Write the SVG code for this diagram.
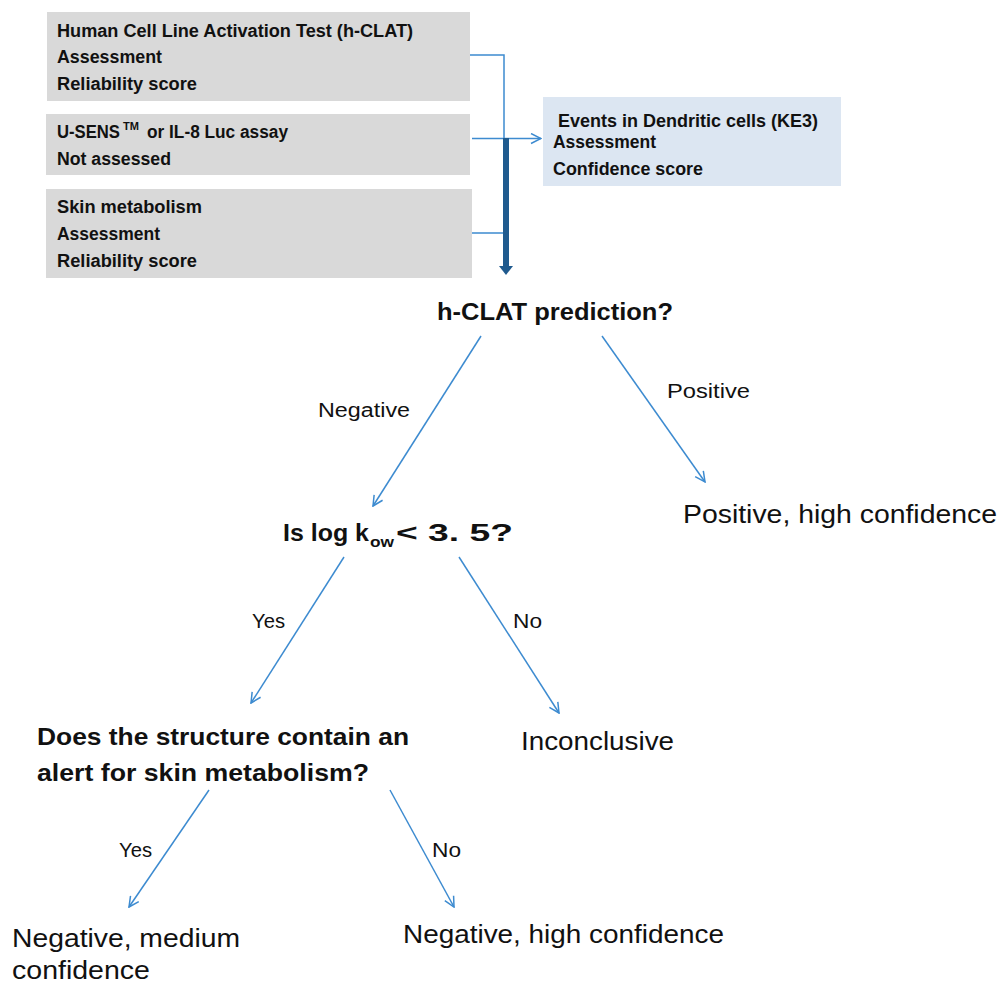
<svg xmlns="http://www.w3.org/2000/svg" width="1000" height="986" viewBox="0 0 1000 986">
  <defs>
    <style>
      .src { fill: #d9d9d9; }
      .ke { fill: #dce6f2; }
      .bt { font-family: "Liberation Sans", Arial, sans-serif; font-weight: bold; font-size: 18px; fill: #111; }
      .q { font-family: "Liberation Sans", Arial, sans-serif; font-weight: bold; font-size: 24px; fill: #111; }
      .lbl { font-family: "Liberation Sans", Arial, sans-serif; font-size: 20px; fill: #111; }
      .res { font-family: "Liberation Sans", Arial, sans-serif; font-size: 25px; fill: #111; }
      .thin { fill: none; stroke: #3d8bd0; stroke-width: 1.5; }
      .thick { fill: none; stroke: #1f5a8e; stroke-width: 6; }
    </style>
    <marker id="open" viewBox="0 0 12 12" refX="11" refY="6" markerWidth="12" markerHeight="12" markerUnits="userSpaceOnUse" orient="auto">
      <path d="M1,1 L11,6 L1,11" fill="none" stroke="#3d8bd0" stroke-width="1.5"/>
    </marker>
  </defs>

  <!-- input evidence boxes -->
  <g id="hclat-box">
    <rect class="src" x="47" y="12" width="423" height="89"/>
    <text class="bt" x="57" y="37" textLength="356" lengthAdjust="spacingAndGlyphs">Human Cell Line Activation Test (h-CLAT)</text>
    <text class="bt" x="57" y="63" textLength="105" lengthAdjust="spacingAndGlyphs">Assessment</text>
    <text class="bt" x="57" y="90" textLength="140" lengthAdjust="spacingAndGlyphs">Reliability score</text>
  </g>
  <g id="usens-box">
    <rect class="src" x="46" y="114" width="424" height="61"/>
    <text class="bt" x="57" y="138" textLength="63" lengthAdjust="spacingAndGlyphs">U-SENS</text>
    <text class="bt" x="123" y="130" style="font-size:11px" textLength="16" lengthAdjust="spacingAndGlyphs">TM</text>
    <text class="bt" x="147" y="138" textLength="141" lengthAdjust="spacingAndGlyphs">or IL-8 Luc assay</text>
    <text class="bt" x="57" y="165" textLength="114" lengthAdjust="spacingAndGlyphs">Not assessed</text>
  </g>
  <g id="skin-box">
    <rect class="src" x="46" y="189" width="426" height="89"/>
    <text class="bt" x="57" y="213" textLength="145" lengthAdjust="spacingAndGlyphs">Skin metabolism</text>
    <text class="bt" x="57" y="240" textLength="103" lengthAdjust="spacingAndGlyphs">Assessment</text>
    <text class="bt" x="57" y="267" textLength="140" lengthAdjust="spacingAndGlyphs">Reliability score</text>
  </g>

  <!-- key event box -->
  <g id="ke3-box">
    <rect class="ke" x="543" y="97" width="298" height="89"/>
    <text class="bt" x="558" y="127" textLength="260" lengthAdjust="spacingAndGlyphs">Events in Dendritic cells (KE3)</text>
    <text class="bt" x="553" y="148" textLength="103" lengthAdjust="spacingAndGlyphs">Assessment</text>
    <text class="bt" x="553" y="175" textLength="150" lengthAdjust="spacingAndGlyphs">Confidence score</text>
  </g>

  <!-- decision nodes -->
  <g id="q-hclat">
    <text class="q" x="437" y="320" textLength="236" lengthAdjust="spacingAndGlyphs">h-CLAT prediction?</text>
  </g>
  <g id="q-logkow">
    <text class="q" x="283" y="541" textLength="86" lengthAdjust="spacingAndGlyphs">Is log k</text>
    <text class="q" x="370" y="547" style="font-size:15px" textLength="24" lengthAdjust="spacingAndGlyphs">ow</text>
    <text class="q" x="396" y="541" textLength="117" lengthAdjust="spacingAndGlyphs">&lt; 3. 5?</text>
  </g>
  <g id="q-alert">
    <text class="q" x="37" y="745" textLength="372" lengthAdjust="spacingAndGlyphs">Does the structure contain an</text>
    <text class="q" x="37" y="781" textLength="332" lengthAdjust="spacingAndGlyphs">alert for skin metabolism?</text>
  </g>

  <!-- outcomes -->
  <g id="out-positive">
    <text class="res" x="683" y="523" textLength="314" lengthAdjust="spacingAndGlyphs">Positive,  high confidence</text>
  </g>
  <g id="out-inconclusive">
    <text class="res" x="521" y="750" textLength="153" lengthAdjust="spacingAndGlyphs">Inconclusive</text>
  </g>
  <g id="out-neg-medium">
    <text class="res" x="12" y="947" textLength="228" lengthAdjust="spacingAndGlyphs">Negative, medium</text>
    <text class="res" x="12" y="979" textLength="138" lengthAdjust="spacingAndGlyphs">confidence</text>
  </g>
  <g id="out-neg-high">
    <text class="res" x="403" y="943" textLength="321" lengthAdjust="spacingAndGlyphs">Negative, high confidence</text>
  </g>

  <!-- connectors -->
  <g id="connectors">
    <path class="thin" d="M470,55 H504 V233 H472"/>
    <path class="thin" d="M472,138.5 H541" marker-end="url(#open)"/>
    <path class="thick" d="M506,138 V268"/>
    <polygon points="499,266 513,266 506,275" fill="#1f5a8e"/>

    <line class="thin" x1="481" y1="336" x2="373" y2="506" marker-end="url(#open)"/>
    <line class="thin" x1="602" y1="336" x2="705" y2="482" marker-end="url(#open)"/>
    <line class="thin" x1="344" y1="557" x2="251" y2="703" marker-end="url(#open)"/>
    <line class="thin" x1="459" y1="557" x2="559" y2="713" marker-end="url(#open)"/>
    <line class="thin" x1="209" y1="790" x2="129" y2="907" marker-end="url(#open)"/>
    <line class="thin" x1="390" y1="790" x2="454" y2="907" marker-end="url(#open)"/>

    <text class="lbl" x="318" y="417" textLength="92" lengthAdjust="spacingAndGlyphs">Negative</text>
    <text class="lbl" x="667" y="398" textLength="83" lengthAdjust="spacingAndGlyphs">Positive</text>
    <text class="lbl" x="252" y="628" textLength="33" lengthAdjust="spacingAndGlyphs">Yes</text>
    <text class="lbl" x="513" y="628" textLength="29" lengthAdjust="spacingAndGlyphs">No</text>
    <text class="lbl" x="119" y="857" textLength="33" lengthAdjust="spacingAndGlyphs">Yes</text>
    <text class="lbl" x="432" y="857" textLength="29" lengthAdjust="spacingAndGlyphs">No</text>
  </g>
</svg>
